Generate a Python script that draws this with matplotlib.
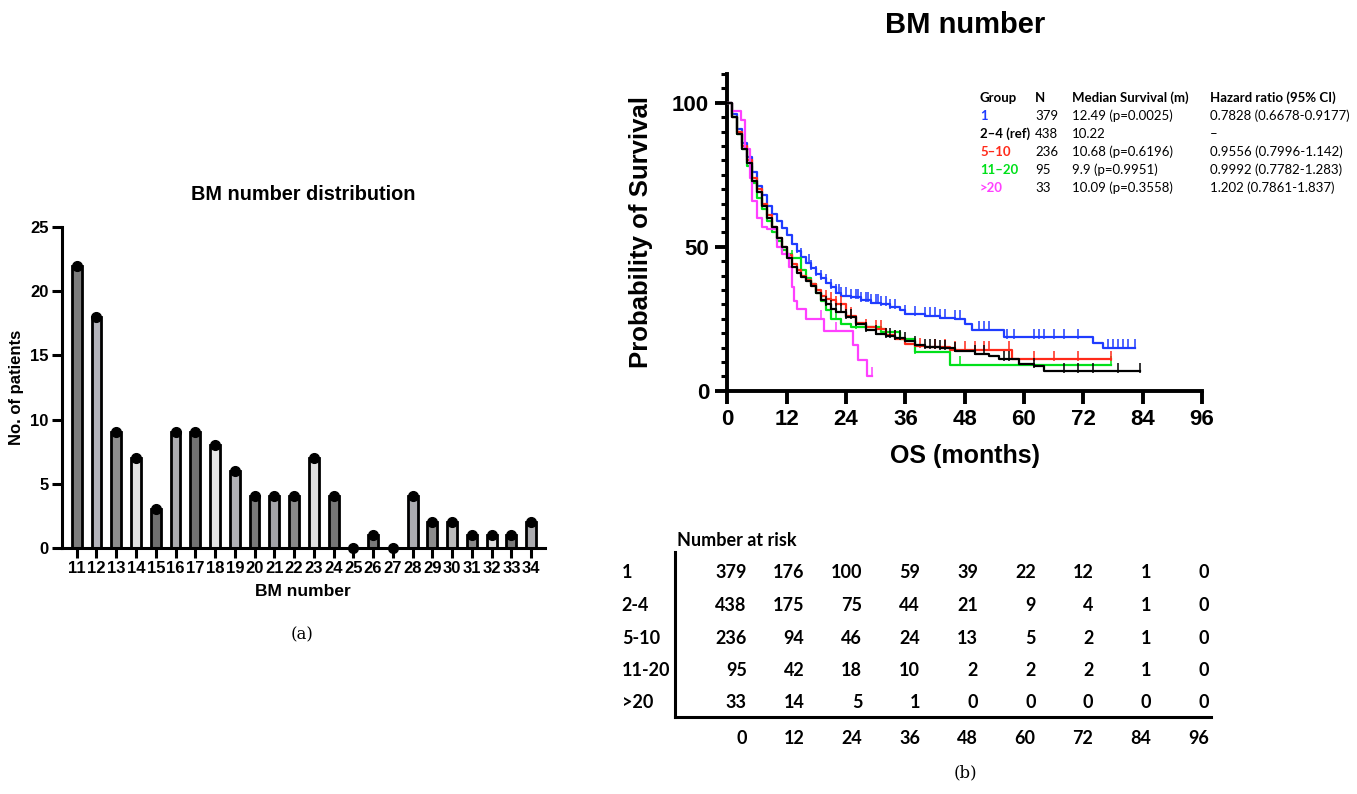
import numpy as np
import matplotlib.pyplot as plt

# ---- data: panel (a) ----
bm_numbers = [str(n) for n in range(11, 35)]
n_patients = [22, 18, 9, 7, 3, 9, 9, 8, 6, 4, 4, 4, 7, 4, 0, 1, 0, 4, 2, 2, 1, 1, 1, 2]
bar_greys = ['#7d7d7d', '#b4b4bc', '#8e8e8e', '#e2e2e2', '#6f6f6f', '#acacb0',
             '#727272', '#e4e4e4', '#b2b2b6', '#7a7a7a', '#a4a4a8', '#8a8a8a',
             '#e0e0e0', '#767676', '#ffffff', '#7a7a7a', '#ffffff', '#acacb0',
             '#8c8c8c', '#bcbcbc', '#8a8a8a', '#dcdcdc', '#7a7a7a', '#acacb0']

# ---- data: panel (b) Kaplan-Meier curves ----
g1_t = [0, 1, 2, 3, 4, 5, 6, 7, 8, 9, 10, 11, 12, 13, 14, 15, 16, 17, 18, 19, 20,
        21, 22, 23, 25, 27, 29, 31, 33, 35, 36, 38, 40, 43, 46, 48, 49.5, 56, 74, 76, 82.5]
g1_s = [100, 96, 91, 86, 81, 76, 71, 68, 64, 61.5, 59, 56.5, 54, 51, 48.5, 46.5, 44.5,
        42.5, 40.5, 39, 37.5, 36, 34, 33, 32.5, 31.5, 30.5, 30, 29, 28, 26.7, 26.5, 26,
        25.3, 25, 23.2, 21.1, 18.6, 16.5, 15, 15]
g1_cens = [14, 15, 16.5, 17, 18, 19, 20, 21, 22, 22.5, 23, 24, 25, 26, 26.5, 27, 28,
           28.5, 29, 30, 30.5, 31, 32, 33, 34, 36, 38, 40, 41, 42, 43, 44, 46, 47, 51,
           52, 53, 56.5, 58, 62, 63, 64, 66, 68, 71, 77, 78, 79, 80, 81, 82.5]

g2_t = [0, 1, 2, 3, 4, 5, 6, 7, 8, 9, 10, 11, 12, 13, 14, 15, 16, 17, 18, 19, 20, 21,
        22, 24, 26, 28, 30, 32, 34, 36, 38, 40, 43, 46, 50, 53, 55, 59, 62, 64, 83.5]
g2_s = [100, 95, 89, 84, 79, 73, 69, 64, 60, 57, 53, 50, 46, 43, 41, 39.5, 38, 36.5,
        34, 31.5, 30, 28.5, 27.5, 25.5, 23, 21, 19.8, 19, 18.2, 17.4, 16, 15.1, 14.8,
        13.9, 12.8, 12, 11, 9.3, 8.5, 6.7, 6.7]
g2_cens = [20, 21, 22, 23, 24, 25, 26, 28, 30, 32, 33, 34, 35, 36, 38, 40, 41, 42, 43,
           44, 46, 50, 52, 56, 57, 62, 68, 71, 74, 79, 83.5]

g3_t = [0, 1, 2, 3, 4, 5, 6, 7, 8, 9, 10, 11, 12, 13, 14, 15, 16, 17, 18, 19, 20, 21,
        22, 24, 26, 28, 30, 32, 34, 36, 38, 40, 45, 57.5, 77.5]
g3_s = [100, 95, 90, 85, 80, 74, 70, 65, 61, 57, 53, 50, 47, 44, 42, 40, 38.5, 37, 35,
        33, 32, 31.4, 30, 26, 23.5, 22, 21.5, 19.5, 18, 16.3, 15.5, 15.1, 14.2, 11, 11]
g3_cens = [20, 21, 22, 23, 25, 28, 30, 31, 34, 39, 42, 44, 46, 48, 50, 52, 53, 57, 62,
           66, 71, 77.5]

g4_t = [0, 1, 2, 3, 4, 5, 6, 7, 8, 9, 10, 11, 12, 13, 15, 16, 17, 18, 19, 20, 21, 23,
        25, 29, 31, 35, 38, 45, 77.5]
g4_s = [100, 95, 89, 84, 78, 72, 67, 63, 59, 55, 52, 49, 47.6, 46, 42, 39, 37, 34, 31,
        28, 25, 23, 22.1, 22.1, 20.3, 18, 13.4, 9.1, 9.1]
g4_cens = [13, 22, 26, 38, 47, 77.5]

g5_t = [0, 1, 2.8, 3.5, 4.5, 5, 6, 7, 8, 10, 11, 12.5, 13, 13.5, 14, 16, 19.5, 25.5,
        26.5, 28.2, 29.3]
g5_s = [100, 97, 94, 84, 74, 66, 60, 57, 56, 50, 47.6, 43, 36, 31, 28.5, 25, 20.9,
        15.7, 10.5, 5.2, 5.2]
g5_cens = [19, 22, 29.3]

groups = ['1', '2\u20134 (ref)', '5\u201310', '11\u201320', '>20']
group_colors = ['#1f3cff', '#000000', '#ff2a1a', '#00e01a', '#ff40ff']
group_n = ['379', '438', '236', '95', '33']
median_surv = ['12.49 (p=0.0025)', '10.22', '10.68 (p=0.6196)', '9.9 (p=0.9951)',
               '10.09 (p=0.3558)']
hazard = ['0.7828 (0.6678-0.9177)', '\u2013', '0.9556 (0.7996-1.142)',
          '0.9992 (0.7782-1.283)', '1.202 (0.7861-1.837)']

risk_rows = ['1', '2-4', '5-10', '11-20', '>20']
risk_times = [0, 12, 24, 36, 48, 60, 72, 84, 96]
at_risk = [[379, 176, 100, 59, 39, 22, 12, 1, 0],
           [438, 175, 75, 44, 21, 9, 4, 1, 0],
           [236, 94, 46, 24, 13, 5, 2, 1, 0],
           [95, 42, 18, 10, 2, 2, 2, 1, 0],
           [33, 14, 5, 1, 0, 0, 0, 0, 0]]

W, H = 1357, 794


def fx(px):
    return px / W


def fy(py):
    return 1 - py / H


def main():
    plt.rcParams['font.family'] = ['Liberation Sans', 'DejaVu Sans']
    fig = plt.figure(figsize=(W / 100, H / 100), dpi=100)

    # ---------------- panel (a) ----------------
    ax1 = fig.add_axes([fx(61.7), fy(547.7), fx(545 - 61.7), 320.4 / H])
    x = np.arange(len(bm_numbers))
    ax1.bar(x, n_patients, width=0.5, color=bar_greys, edgecolor='black',
            linewidth=2, zorder=2)
    ax1.plot(x, n_patients, 'o', color='black', markersize=7, zorder=3, clip_on=False)
    ax1.set_xlim(-0.76, 23.7)
    ax1.set_ylim(0, 25)
    ax1.set_yticks([0, 5, 10, 15, 20, 25])
    ax1.set_xticks(x)
    ax1.set_xticklabels(bm_numbers)
    for s in ['top', 'right']:
        ax1.spines[s].set_visible(False)
    for s in ['left', 'bottom']:
        ax1.spines[s].set_linewidth(2.2)
    ax1.tick_params(width=2.2, length=7.5, labelsize=12, pad=2)
    for lab in ax1.get_xticklabels() + ax1.get_yticklabels():
        lab.set_fontweight('bold')
    ax1.set_xlabel('BM number', fontsize=12.5, fontweight='bold', labelpad=6)
    fig.text(fx(17), fy(387), 'No. of patients', rotation=90, ha='center',
             va='center', fontsize=12, fontweight='bold')
    fig.text(fx(303), fy(195), 'BM number distribution', ha='center', va='center',
             fontsize=14.3, fontweight='bold')
    fig.text(fx(302), fy(635), '(a)', ha='center', va='center', fontsize=12,
             family='DejaVu Serif')

    # ---------------- panel (b) KM ----------------
    ax2 = fig.add_axes([fx(727.3), fy(390.7), fx(474.7), 316.7 / H])
    curves = [(g1_t, g1_s, g1_cens), (g2_t, g2_s, g2_cens), (g3_t, g3_s, g3_cens),
              (g4_t, g4_s, g4_cens), (g5_t, g5_s, g5_cens)]
    order = [0, 3, 2, 4, 1]
    for i in order:
        t, s, cens = curves[i]
        t = np.array(t)
        s = np.array(s)
        ax2.step(t, s, where='post', color=group_colors[i], linewidth=1.6, zorder=3)
        idx = np.searchsorted(t, cens, side='right') - 1
        ax2.plot(cens, s[idx] + 1.2, '|', color=group_colors[i], markersize=7,
                 markeredgewidth=1.1, zorder=3)
    ax2.set_xlim(0, 96)
    ax2.set_ylim(0, 110)
    ax2.set_xticks(risk_times)
    ax2.set_yticks([0, 50, 100])
    ax2.set_yticks(np.arange(0, 111, 5), minor=True)
    for s in ['top', 'right']:
        ax2.spines[s].set_visible(False)
    for s in ['left', 'bottom']:
        ax2.spines[s].set_linewidth(2.8)
    ax2.tick_params(axis='both', which='major', width=2.8, length=9, labelsize=16, pad=4)
    ax2.tick_params(axis='y', which='minor', width=2.2, length=4.5)
    for lab in ax2.get_xticklabels() + ax2.get_yticklabels():
        lab.set_fontweight('bold')
    ax2.set_xlabel('OS (months)', fontsize=18, fontweight='bold', labelpad=10)
    fig.text(fx(641), fy(232), 'Probability of Survival', rotation=90, ha='center',
             va='center', fontsize=18.5, fontweight='bold')
    fig.text(fx(965), fy(25), 'BM number', ha='center', va='center', fontsize=21,
             fontweight='bold')

    # legend table
    col_x = [980, 1035, 1072, 1210]
    row_y = [98, 116, 134, 152, 170, 188]
    headers = ['Group', 'N', 'Median Survival (m)', 'Hazard ratio (95% CI)']
    for cx, h in zip(col_x, headers):
        fig.text(fx(cx), fy(row_y[0]), h, ha='left', va='center', fontsize=9.5,
                 fontweight='bold', family='Lato')
    for r in range(len(groups)):
        yy = fy(row_y[r + 1])
        fig.text(fx(col_x[0]), yy, groups[r], ha='left', va='center', fontsize=9.5,
                 fontweight='bold', color=group_colors[r], family='Lato')
        fig.text(fx(col_x[1]), yy, group_n[r], ha='left', va='center', fontsize=9.5,
                 family='Lato')
        fig.text(fx(col_x[2]), yy, median_surv[r], ha='left', va='center',
                 fontsize=9.5, family='Lato')
        fig.text(fx(col_x[3]), yy, hazard[r], ha='left', va='center', fontsize=9.5,
                 family='Lato')

    # ---------------- number at risk ----------------
    # table x axis: time value t -> right edge of number, 0 at 746.7 px, 96 at 1209 px
    ppm = (1209 - 746.7) / 96.0
    left_t = (675 - 746.7) / ppm
    right_t = (1211 - 746.7) / ppm
    ax3 = fig.add_axes([fx(675), fy(716.5), fx(1211 - 675), 164.5 / H])
    ax3.set_xlim(left_t, right_t)
    row_gap = 32.5
    ax3.set_ylim((716.5 - 573) / row_gap, (552 - 573) / row_gap)
    for s in ['top', 'right']:
        ax3.spines[s].set_visible(False)
    for s in ['left', 'bottom']:
        ax3.spines[s].set_linewidth(2.2)
    ax3.set_xticks([])
    ax3.set_yticks([])
    fs = 13
    for r, name in enumerate(risk_rows):
        ax3.text((621.7 - 746.7) / ppm, r, name, ha='left', va='center', fontsize=fs,
                 fontweight='bold', family='Lato', clip_on=False)
        for c, tm in enumerate(risk_times):
            ax3.text(tm, r, str(at_risk[r][c]), ha='right', va='center',
                     fontsize=fs, fontweight='bold', family='Lato')
    for tm in risk_times:
        ax3.text(tm, (738 - 573) / row_gap, str(tm), ha='right', va='center',
                 fontsize=fs, fontweight='bold', family='Lato', clip_on=False)
    ax3.text((677 - 746.7) / ppm, (541 - 573) / row_gap, 'Number at risk', ha='left',
             va='center', fontsize=fs, fontweight='bold', family='Lato', clip_on=False)
    fig.text(fx(965), fy(773), '(b)', ha='center', va='center', fontsize=12,
             family='DejaVu Serif')

    plt.savefig('out.png', dpi=100)


if __name__ == '__main__':
    main()
